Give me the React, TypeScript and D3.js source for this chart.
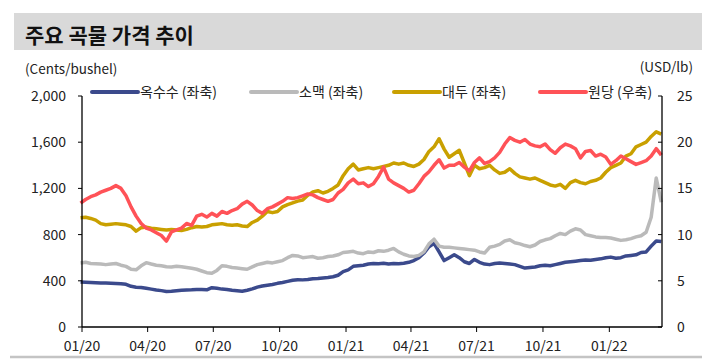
import React from 'react';
import * as d3 from 'd3';

// weekly observations (Mondays), 2019-12-30 .. 2022-03-14
const firstWeek = new Date(2019, 11, 30);
const weeks = d3.timeMonday.range(firstWeek, new Date(2022, 2, 15));

// cents/bushel (left axis)
const corn = [
  390, 388, 386, 384, 382, 380, 378, 376, 374, 370, 352, 345, 342,
  335, 328, 320, 315, 308, 310, 314, 318, 320, 322, 325, 324, 322,
  340, 335, 328, 325, 318, 314, 310, 318, 330, 345, 355, 362, 368,
  378, 385, 395, 405, 410, 408, 412, 418, 420, 425, 428, 435, 448,
  480, 495, 525, 530, 535, 545, 550, 548, 552, 545, 550, 548, 552,
  560, 575, 600, 640, 695, 725, 650, 575, 600, 625, 600, 565, 550,
  585, 560, 545, 540, 550, 555, 550, 545, 540, 525, 510, 515, 520,
  530, 535, 530, 540, 550, 560, 565, 570, 575, 580, 578, 585, 590,
  600, 605, 595, 600, 615, 620, 625, 645, 650, 700, 745, 740,
];
const wheat = [
  555, 560, 550, 548, 545, 540, 545, 550, 535, 525, 500, 495, 530,
  557, 545, 535, 530, 522, 520, 525, 522, 515, 508, 500, 485, 470,
  465, 490, 530, 525, 515, 510, 505, 500, 520, 540, 550, 560, 555,
  565, 575, 600, 620, 615, 600, 605, 610, 595, 600, 610, 615, 625,
  645, 650, 655, 640, 635, 650, 645, 660, 655, 665, 680, 650, 630,
  615, 610, 620, 650, 720, 760, 700, 690, 690, 685, 680, 675, 670,
  665, 650, 640, 690, 700, 715, 745, 755, 730, 720, 705, 695, 710,
  740, 755, 765, 790, 810, 800, 830, 850, 840, 800, 790, 780, 775,
  775, 770, 760, 750, 755, 765, 780, 790, 820, 950, 1290, 1080,
];
const soybean = [
  945, 950, 940, 925, 895, 885, 890, 895, 890, 885, 870, 830, 860,
  865, 855, 850, 845, 840, 845, 840, 835, 845, 860, 870, 865, 870,
  885, 890, 895, 885, 880, 885, 875, 870, 905, 925, 960, 1000, 990,
  1000, 1040, 1060, 1075, 1090, 1100, 1140, 1170, 1180, 1160, 1175, 1200, 1230,
  1310, 1370, 1410, 1360, 1370, 1380, 1370, 1380, 1390, 1400, 1420, 1410, 1420,
  1400, 1390, 1410, 1450, 1520, 1560, 1630, 1540, 1470, 1500, 1530, 1420, 1310,
  1400, 1370, 1380, 1400, 1360, 1330, 1340, 1370, 1330, 1300, 1290, 1280, 1290,
  1270, 1250, 1230, 1220, 1235, 1200, 1250, 1270, 1250, 1240, 1260, 1270, 1290,
  1340, 1380, 1400, 1420, 1480, 1500, 1560, 1580, 1600, 1650, 1690, 1670,
];
// USD/lb (right axis)
const sugar = [
  13.4, 13.8, 14.1, 14.3, 14.6, 14.8, 15.0, 15.3, 15.0, 14.2, 13.0, 12.0, 11.2,
  10.7, 10.5, 10.2, 9.9, 9.3, 10.3, 10.5, 10.7, 11.2, 11.0, 12.0, 12.2, 11.9,
  12.3, 12.0, 12.5, 12.3, 12.6, 12.8, 13.3, 13.6, 13.2, 12.6, 12.3, 12.8, 13.0,
  13.3, 13.6, 14.0, 13.9, 14.0, 14.2, 14.4, 14.3, 14.0, 13.8, 13.6, 13.8, 14.5,
  14.9, 15.6, 16.0, 15.5, 15.6, 15.2, 15.5, 16.3, 17.3, 16.0, 15.6, 15.3, 15.0,
  14.6, 14.8, 15.5, 16.3, 16.8, 17.5, 18.1, 17.2, 17.5, 17.5, 17.8, 17.3, 16.9,
  17.8, 18.3, 17.7, 17.9, 18.3, 18.9, 19.8, 20.5, 20.2, 20.0, 20.3, 19.8, 19.6,
  19.5, 19.8, 19.2, 18.8, 19.4, 19.8, 19.6, 19.3, 18.3, 19.0, 19.1, 18.5, 18.7,
  18.4, 17.6, 18.0, 18.5, 18.2, 17.9, 17.6, 17.8, 18.0, 18.5, 19.3, 18.6,
];

const leftTicks = [0, 400, 800, 1200, 1600, 2000];
const rightTicks = [0, 5, 10, 15, 20, 25];
const quarterTicks = d3.timeMonth.every(3)!.range(new Date(2020, 0, 1), new Date(2022, 1, 1));

const series = [
  { name: '옥수수 (좌축)', values: corn, axis: 'left', color: '#3b4a8c' },
  { name: '소맥 (좌축)', values: wheat, axis: 'left', color: '#bababa' },
  { name: '대두 (좌축)', values: soybean, axis: 'left', color: '#c9a000' },
  { name: '원당 (우축)', values: sugar, axis: 'right', color: '#ff5257' },
];

const W = 702;
const H = 363;
const font = '"Noto Sans CJK KR", "Noto Sans", sans-serif';

export default function App() {
  const x = d3.scaleTime()
    .domain([new Date(2020, 0, 1), new Date(2022, 2, 15)])
    .range([82, 662]);
  const yL = d3.scaleLinear().domain([0, 2000]).range([327, 96]);
  const yR = d3.scaleLinear().domain([0, 25]).range([327, 96]);

  const fmtTick = d3.timeFormat('%m/%y');
  const legendX = [92, 251, 394, 540];

  return (
    <svg width={W} height={H} style={{ position: 'absolute', left: 0, top: 0 }} fontFamily={font}>
      <rect x={0} y={0} width={W} height={H} fill="#fff" />
      {/* title bar */}
      <rect x={14} y={13} width={688} height={37} fill="#d9d9d9" />
      <text x={25} y={43} fontSize={21} fontWeight="bold" fill="#111">주요 곡물 가격 추이</text>

      <text x={25} y={74} fontSize={13.5} fill="#222">(Cents/bushel)</text>
      <text x={693} y={72} fontSize={13.5} fill="#222" textAnchor="end">(USD/lb)</text>

      {/* lines (sugar drawn last, on top) */}
      {series.map(s => {
        const y = s.axis === 'left' ? yL : yR;
        const line = d3.line<number>()
          .x((_, i) => x(weeks[i]))
          .y(d => y(d));
        return (
          <path key={s.name} d={line(s.values) || ''} fill="none" stroke={s.color}
            strokeWidth={3.5} strokeLinejoin="round" />
        );
      })}

      {/* left axis */}
      <line x1={82} x2={82} y1={96} y2={327} stroke="#000" strokeWidth={1.3} />
      {leftTicks.map(t => (
        <g key={'l' + t}>
          <line x1={78} x2={82} y1={yL(t)} y2={yL(t)} stroke="#000" strokeWidth={1} />
          <text x={66} y={yL(t)} dy="0.36em" fontSize={14} textAnchor="end" fill="#222">
            {d3.format(',')(t)}
          </text>
        </g>
      ))}

      {/* right axis */}
      <line x1={662} x2={662} y1={96} y2={327} stroke="#000" strokeWidth={1.3} />
      {rightTicks.map(t => (
        <g key={'r' + t}>
          <line x1={658} x2={662} y1={yR(t)} y2={yR(t)} stroke="#000" strokeWidth={1} />
          <text x={677} y={yR(t)} dy="0.36em" fontSize={14} fill="#222">{t}</text>
        </g>
      ))}

      {/* bottom axis */}
      <line x1={82} x2={662} y1={327} y2={327} stroke="#000" strokeWidth={1.3} />
      {quarterTicks.map(d => (
        <g key={d.getTime()}>
          <line x1={x(d)} x2={x(d)} y1={327} y2={332} stroke="#000" strokeWidth={1} />
          <text x={x(d)} y={351} fontSize={14} textAnchor="middle" fill="#222">{fmtTick(d)}</text>
        </g>
      ))}

      {/* legend */}
      {series.map((s, i) => (
        <g key={'lg' + s.name}>
          <line x1={legendX[i]} x2={legendX[i] + 46} y1={92} y2={92} stroke={s.color}
            strokeWidth={4} strokeLinecap="round" />
          <text x={legendX[i] + 48} y={92} dy="0.36em" fontSize={14} fill="#222">{s.name}</text>
        </g>
      ))}

      <line x1={10} x2={702} y1={357} y2={357} stroke="#c4c4c4" strokeWidth={2.5} />
    </svg>
  );
}
